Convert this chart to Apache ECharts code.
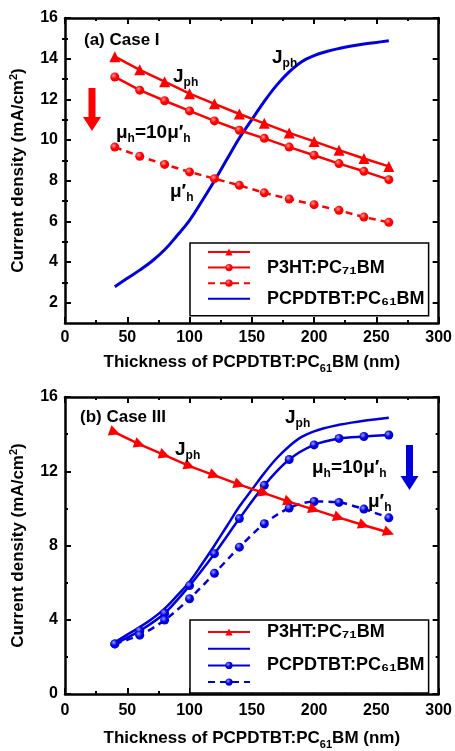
<!DOCTYPE html>
<html><head><meta charset="utf-8">
<script src="https://cdn.jsdelivr.net/npm/echarts@6/dist/echarts.min.js"></script>
<style>html,body{margin:0;padding:0;background:#fff}#c{width:455px;height:751px}</style>
</head><body><div id="c"></div>
<script>
// ---- data ----
const thickness = [40, 60, 80, 100, 120, 140, 160, 180, 200, 220, 240, 260];
const p3htJph  = [14.1, 13.45, 12.87, 12.28, 11.78, 11.28, 10.82, 10.35, 9.93, 9.5, 9.09, 8.7];
const p3htMu10 = [13.1, 12.45, 11.93, 11.43, 10.94, 10.48, 10.08, 9.65, 9.25, 8.84, 8.46, 8.05];
const p3htMu   = [9.65, 9.2, 8.8, 8.43, 8.1, 7.77, 7.4, 7.1, 6.82, 6.54, 6.21, 5.95];
const curveThickness = [40, 50, 60, 70, 80, 90, 100, 110, 120, 130, 140, 150, 160, 170, 180, 190, 200, 210, 220, 230, 240, 250, 260];
const pcpdtbtJph = [2.78, 3.2, 3.6, 4.05, 4.6, 5.3, 6.05, 7.0, 8.0, 9.05, 10.1, 11.0, 11.9, 12.7, 13.35, 13.85, 14.15, 14.35, 14.5, 14.62, 14.72, 14.8, 14.88];
const pcpdtbtMu10 = [2.7, 3.4, 4.35, 5.84, 7.56, 9.45, 11.24, 12.63, 13.42, 13.77, 13.87, 13.95];
const pcpdtbtMu   = [2.7, 3.17, 3.98, 5.13, 6.5, 7.91, 9.17, 10.02, 10.37, 10.32, 9.96, 9.49];
const xTickLabels = [0, 50, 100, 150, 200, 250, 300];
const yMajorA = [2, 4, 6, 8, 10, 12, 14, 16];
const yMinorA = [3, 5, 7, 9, 11, 13, 15];
const yLabelsB = [0, 4, 8, 12, 16];
const labelP3HT = 'P3HT:PC\u2087\u2081BM';
const labelPCPDTBT = 'PCPDTBT:PC\u2086\u2081BM';

const RED = '#ff0000', BLUE = '#0000dd', BLACK = '#000';
const FONT = '"Liberation Sans", Arial, sans-serif';

function pairs(xs, ys) { return xs.map((x, i) => [x, ys[i]]); }
function ball(c, light) {
  return { type: 'radial', x: 0.38, y: 0.35, r: 0.7,
    colorStops: [{ offset: 0, color: light }, { offset: 0.5, color: c }, { offset: 1, color: c }] };
}
const lineAx = { show: true, onZero: false, lineStyle: { color: BLACK, width: 2.5 } };
const tickStyle = { color: BLACK, width: 2 };
const labelStyle = { color: BLACK, fontFamily: FONT, fontWeight: 'bold', fontSize: 16 };
const subRich = {
  a: { fontFamily: FONT, fontWeight: 'bold', fontSize: 17, color: BLACK },
  s: { fontFamily: FONT, fontWeight: 'bold', fontSize: 11, color: BLACK, padding: [12, 0, 0, 0] },
  p: { fontFamily: FONT, fontWeight: 'bold', fontSize: 11, color: BLACK, padding: [0, 0, 10, 0] }
};

function xAxes(g, gap, margin) {
  const base = {
    type: 'value', gridIndex: g, min: 0, max: 300, interval: 50,
    axisLine: lineAx, splitLine: { show: false },
    axisTick: { show: true, inside: true, length: 6, lineStyle: tickStyle },
    minorTick: { show: true, splitNumber: 2, length: 3, lineStyle: tickStyle }
  };
  return [
    Object.assign({}, base, {
      position: 'bottom',
      axisLabel: Object.assign({ margin: margin, customValues: xTickLabels }, labelStyle),
      name: '{a|Thickness of PCPDTBT:PC}{s|61}{a|BM (nm)}',
      nameLocation: 'middle', nameGap: gap,
      nameTextStyle: { rich: subRich }
    }),
    Object.assign({}, base, { position: 'top', axisLabel: { show: false } })
  ];
}
const yName = '{a|Current density (mA/cm}{p|2}{a|)}';
const legendText = { color: BLACK, fontFamily: FONT, fontWeight: 'bold', fontSize: 18, padding: [0, 0, 0, 12] };

const option = {
  animation: false,
  backgroundColor: '#fff',
  grid: [
    { left: 60, top: 18, width: 379, height: 305 },
    { left: 60, top: 397, width: 379, height: 303 }
  ],
  xAxis: [...xAxes(0, 28, 7), ...xAxes(1, 33, 9)],
  yAxis: [
    { type: 'value', gridIndex: 0, position: 'left', min: 1, max: 16,
      axisLine: lineAx, splitLine: { show: false },
      axisTick: { show: true, inside: true, length: 6, lineStyle: tickStyle, customValues: yMajorA },
      axisLabel: Object.assign({ margin: 7, customValues: yMajorA }, labelStyle),
      name: yName, nameLocation: 'middle', nameGap: 36, nameRotate: 90, nameTextStyle: { rich: subRich } },
    { type: 'value', gridIndex: 0, position: 'left', min: 1, max: 16,
      axisLine: { show: false }, splitLine: { show: false }, axisLabel: { show: false },
      axisTick: { show: true, inside: true, length: 3, lineStyle: tickStyle, customValues: yMinorA } },
    { type: 'value', gridIndex: 0, position: 'right', min: 1, max: 16,
      axisLine: lineAx, splitLine: { show: false }, axisLabel: { show: false },
      axisTick: { show: true, inside: true, length: 6, lineStyle: tickStyle, customValues: yMajorA } },
    { type: 'value', gridIndex: 0, position: 'right', min: 1, max: 16,
      axisLine: { show: false }, splitLine: { show: false }, axisLabel: { show: false },
      axisTick: { show: true, inside: true, length: 3, lineStyle: tickStyle, customValues: yMinorA } },
    { type: 'value', gridIndex: 1, position: 'left', min: 0, max: 16, interval: 4,
      axisLine: lineAx, splitLine: { show: false },
      axisTick: { show: true, inside: true, length: 6, lineStyle: tickStyle },
      minorTick: { show: true, splitNumber: 2, length: 3, lineStyle: tickStyle },
      axisLabel: Object.assign({ margin: 7, customValues: yLabelsB }, labelStyle),
      name: yName, nameLocation: 'middle', nameGap: 36, nameRotate: 90, nameTextStyle: { rich: subRich } },
    { type: 'value', gridIndex: 1, position: 'right', min: 0, max: 16, interval: 4,
      axisLine: lineAx, splitLine: { show: false }, axisLabel: { show: false },
      axisTick: { show: true, inside: true, length: 6, lineStyle: tickStyle },
      minorTick: { show: true, splitNumber: 2, length: 3, lineStyle: tickStyle } }
  ],
  legend: [
    { orient: 'vertical', left: 190, top: 243,
      data: ['a1', 'a2', 'a3', { name: 'a4', itemStyle: { opacity: 0 } }],
      itemWidth: 42, itemHeight: 9, itemGap: -2.4, borderColor: BLACK, borderWidth: 1.5,
      padding: [0, 4, 8, 17], backgroundColor: '#fff', symbolRotate: 0,
      formatter: n => n === 'a2' ? labelP3HT : (n === 'a4' ? labelPCPDTBT : ' '),
      textStyle: legendText },
    { orient: 'vertical', left: 190, top: 620,
      data: ['b1', { name: 'b2', itemStyle: { opacity: 0 } }, 'b3', 'b4'],
      itemWidth: 42, itemHeight: 9, itemGap: -1.3, borderColor: BLACK, borderWidth: 1.5,
      padding: [3, 4, 2, 17], backgroundColor: '#fff', symbolRotate: 0,
      formatter: n => n === 'b1' ? labelP3HT : (n === 'b3' ? labelPCPDTBT : ' '),
      textStyle: legendText }
  ],
  series: [
    { name: 'a4', type: 'line', xAxisIndex: 0, yAxisIndex: 0, data: pairs(curveThickness, pcpdtbtJph),
      smooth: 0.4, symbol: 'none', lineStyle: { color: BLUE, width: 3 }, itemStyle: { color: BLUE } },
    { name: 'a1', type: 'line', xAxisIndex: 0, yAxisIndex: 0, data: pairs(thickness, p3htJph),
      symbol: 'triangle', symbolSize: 11, lineStyle: { color: RED, width: 2.5 }, itemStyle: { color: RED } },
    { name: 'a2', type: 'line', xAxisIndex: 0, yAxisIndex: 0, data: pairs(thickness, p3htMu10),
      symbol: 'circle', symbolSize: 9, lineStyle: { color: RED, width: 2.5 }, itemStyle: { color: ball(RED, '#ff9a9a') } },
    { name: 'a3', type: 'line', xAxisIndex: 0, yAxisIndex: 0, data: pairs(thickness, p3htMu),
      symbol: 'circle', symbolSize: 9, lineStyle: { color: RED, width: 2.5, type: [7, 5] }, itemStyle: { color: ball(RED, '#ff9a9a') } },

    { name: 'b2', type: 'line', xAxisIndex: 2, yAxisIndex: 4, data: pairs(curveThickness, pcpdtbtJph),
      smooth: 0.4, symbol: 'none', lineStyle: { color: BLUE, width: 2.5 }, itemStyle: { color: BLUE } },
    { name: 'b3', type: 'line', xAxisIndex: 2, yAxisIndex: 4, data: pairs(thickness, pcpdtbtMu10),
      smooth: 0.3, symbol: 'circle', symbolSize: 9, lineStyle: { color: BLUE, width: 2.5 }, itemStyle: { color: ball(BLUE, '#9a9aff') } },
    { name: 'b4', type: 'line', xAxisIndex: 2, yAxisIndex: 4, data: pairs(thickness, pcpdtbtMu),
      smooth: 0.3, symbol: 'circle', symbolSize: 9, lineStyle: { color: BLUE, width: 2.5, type: [7, 5] }, itemStyle: { color: ball(BLUE, '#9a9aff') } },
    { name: 'b1', type: 'line', xAxisIndex: 2, yAxisIndex: 4, data: pairs(thickness, p3htJph),
      symbol: 'triangle', symbolSize: 11, symbolRotate: -110, lineStyle: { color: RED, width: 2.5 }, itemStyle: { color: RED } }
  ],
  graphic: []
};

const annRich = {
  m: { fontFamily: FONT, fontWeight: 'bold', fontSize: 19, color: BLACK },
  s: { fontFamily: FONT, fontWeight: 'bold', fontSize: 12, color: BLACK, padding: [12, 0, 0, 0] }
};
function txt(x, y, text, size) {
  return { type: 'text', x: x, y: y, z: 100,
    style: { text: text, rich: annRich, font: 'bold ' + (size || 17) + 'px ' + FONT, fill: BLACK, verticalAlign: 'middle', align: 'left' } };
}
option.graphic = [
  txt(84, 40, '(a) Case I', 17),
  txt(173, 77, '{m|J}{s|ph}'),
  txt(272, 58, '{m|J}{s|ph}'),
  txt(116, 133, '{m|μ}{s|h}{m|=10μ′}{s|h}'),
  txt(170, 192, '{m|μ′}{s|h}'),
  txt(80, 417, '(b) Case III', 17),
  txt(175, 450, '{m|J}{s|ph}'),
  txt(285, 418, '{m|J}{s|ph}'),
  txt(312, 468, '{m|μ}{s|h}{m|=10μ′}{s|h}'),
  txt(368, 502, '{m|μ′}{s|h}'),
  { type: 'polygon', z: 100, shape: { points: [[88.5, 88], [95.5, 88], [95.5, 117], [101, 117], [92, 131], [83, 117], [88.5, 117]] }, style: { fill: RED } },
  { type: 'polygon', z: 100, shape: { points: [[406, 445], [413, 445], [413, 476], [418.5, 476], [409.5, 490], [400.5, 476], [406, 476]] }, style: { fill: BLUE } }
];

const chart = echarts.init(document.getElementById('c'), null, { renderer: 'canvas' });
chart.setOption(option);
</script>
</body></html>
